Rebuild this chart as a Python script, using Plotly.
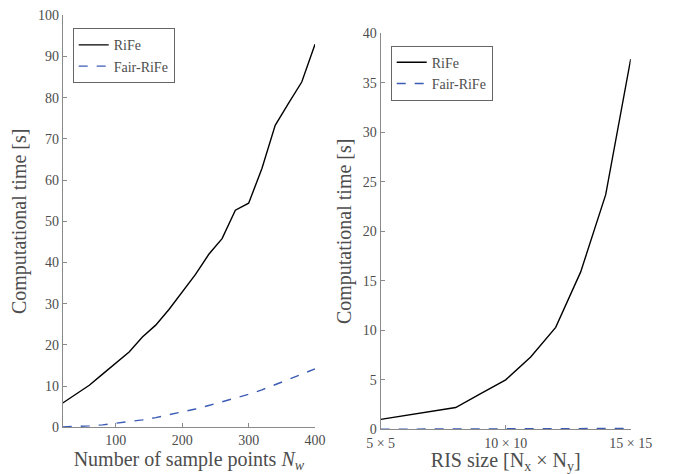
import plotly.graph_objects as go

# Left panel data
n_samples = [20, 40, 60, 80, 100, 120, 140, 160, 180, 200, 220, 240, 260, 280, 300, 320, 340, 360, 380, 400]
rife_left = [5.9, 8.0, 10.2, 12.9, 15.6, 18.3, 21.9, 24.8, 28.6, 32.8, 37.1, 42.0, 45.8, 52.7, 54.4, 62.8, 73.3, 78.6, 83.8, 93.0]
fair_left = [0.1, 0.2, 0.35, 0.6, 0.95, 1.35, 1.8, 2.35, 3.0, 3.7, 4.45, 5.3, 6.2, 7.1, 8.0, 9.1, 10.3, 11.6, 12.9, 14.2]

# Right panel data
ris_n = [5, 6, 7, 8, 9, 10, 11, 12, 13, 14, 15]
rife_right = [1.0, 1.4, 1.78, 2.2, 3.6, 5.0, 7.3, 10.3, 15.9, 23.7, 37.4]
fair_right = [0.01, 0.01, 0.02, 0.02, 0.03, 0.04, 0.05, 0.06, 0.07, 0.08, 0.1]
ris_ticks = [5, 10, 15]
ris_ticklabels = ["5 × 5", "10 × 10", "15 × 15"]

FONT = "Liberation Serif, Times New Roman, serif"
AX = "#8a8a8a"
TXT = "#4d4d4d"
BLUE = "#3b5bb5"

# page has an 8px body margin, so the figure is sized to the remaining viewport
W, H = 665, 466

fig = go.Figure()
fig.add_trace(go.Scatter(x=n_samples, y=rife_left, mode="lines", name="RiFe",
                         line=dict(color="black", width=1.4), xaxis="x", yaxis="y", legend="legend"))
fig.add_trace(go.Scatter(x=n_samples, y=fair_left, mode="lines", name="Fair-RiFe",
                         line=dict(color=BLUE, width=1.4, dash="dash"), xaxis="x", yaxis="y", legend="legend"))
fig.add_trace(go.Scatter(x=ris_n, y=rife_right, mode="lines", name="RiFe",
                         line=dict(color="black", width=1.4), xaxis="x2", yaxis="y2", legend="legend2"))
fig.add_trace(go.Scatter(x=ris_n, y=fair_right, mode="lines", name="Fair-RiFe",
                         line=dict(color=BLUE, width=1.4, dash="dash"), xaxis="x2", yaxis="y2", legend="legend2"))

axcommon = dict(showgrid=False, zeroline=False, showline=True, linecolor=AX, linewidth=1,
                ticks="inside", ticklen=4, tickcolor=AX, automargin=False,
                tickfont=dict(family=FONT, size=14, color=TXT))
title_font = dict(family=FONT, size=20, color=TXT)

fig.update_layout(
    width=W, height=H,
    margin=dict(l=0, r=0, t=0, b=0),
    paper_bgcolor="white", plot_bgcolor="white",
    font=dict(family=FONT, color=TXT),
    xaxis=dict(domain=[0.0823, 0.4617], range=[20, 400], tickvals=[100, 200, 300, 400],
               title=dict(text="Number of sample points <i>N<sub>w</sub></i>", font=title_font, standoff=4),
               anchor="y", **axcommon),
    yaxis=dict(domain=[0.1002, 0.9843], range=[0, 100], tickvals=list(range(0, 101, 10)),
               title=dict(text="Computational time [s]", font=title_font, standoff=5),
               anchor="x", **axcommon),
    xaxis2=dict(domain=[0.5604, 0.9364], range=[5, 15], tickvals=ris_ticks, ticktext=ris_ticklabels,
                ticklabelstandoff=1,
                title=dict(text="RIS size [N<sub>x</sub> × N<sub>y</sub>]", font=title_font, standoff=7),
                anchor="y2", **axcommon),
    yaxis2=dict(domain=[0.0959, 0.9457], range=[0, 40], tickvals=list(range(0, 41, 5)),
                title=dict(text="Computational time [s]", font=title_font, standoff=5),
                anchor="x2", **axcommon),
    legend=dict(x=0.0973, y=0.9564, xanchor="left", yanchor="top", bgcolor="white",
                bordercolor="#666", borderwidth=1, font=dict(family=FONT, size=14, color=TXT),
                tracegroupgap=0, itemwidth=30),
    legend2=dict(x=0.5755, y=0.9191, xanchor="left", yanchor="top", bgcolor="white",
                 bordercolor="#666", borderwidth=1, font=dict(family=FONT, size=14, color=TXT),
                 tracegroupgap=0, itemwidth=30),
)

fig.write_html("out.html")
